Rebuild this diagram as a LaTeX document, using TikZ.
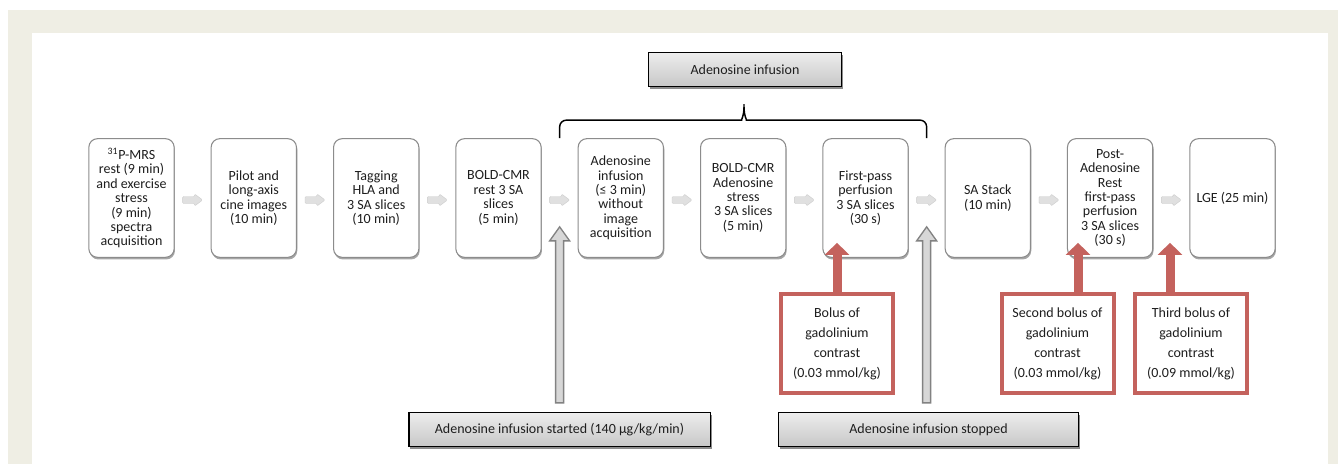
\documentclass[tikz,border=0pt]{standalone}
\usepackage{fontspec}
\setmainfont{Carlito}
\usetikzlibrary{shadows,calc,arrows.meta}
\definecolor{bgbeige}{RGB}{239,238,228}
\definecolor{boxline}{RGB}{140,140,140}
\definecolor{bolusred}{RGB}{196,98,93}
\definecolor{arrgrey}{RGB}{130,130,130}
\definecolor{arrfill}{RGB}{215,215,215}
\definecolor{txt}{RGB}{30,30,30}
\tikzset{
  stage/.style={draw=boxline, line width=0.8pt, rounded corners=6.5pt, fill=white,
    minimum width=64pt, minimum height=89pt, inner sep=1pt, align=center, text=txt,
    font=\fontsize{10.5}{10.8}\selectfont,
    drop shadow={shadow xshift=0.6pt, shadow yshift=-1.6pt, opacity=0.35, fill=black}},
  headbox/.style={draw=black, line width=1pt, top color=white!93!black, bottom color=white!78!black,
    minimum height=25.5pt, inner sep=2pt, font=\fontsize{10.5}{12}\selectfont, text=txt,
    drop shadow={shadow xshift=1.2pt, shadow yshift=-1.5pt, opacity=0.45, fill=black}},
  bolus/.style={draw=bolusred, line width=3pt, fill=white, minimum width=84pt, minimum height=74.5pt,
    inner sep=1pt, align=center, text=txt, font=\fontsize{10.5}{15}\selectfont},
  redarr/.style={draw=bolusred, line width=6.75pt, -{Triangle[width=18pt,length=9pt]}},
  greyarr/.style={draw=arrgrey, line width=1pt, fill=arrfill, line join=miter},
  smarrow/.style={fill=white!88!black, draw=white!80!black, line width=0.3pt, rounded corners=0.8pt},
  bracket/.style={draw=black, line width=1.1pt, rounded corners=5pt},
}
\newcommand\smallarr[1]{\path[smarrow] ($(#1)+(-10,-3.5)$) -- ++(12,0) -- ++(0,-2.5) -- ++(8,6) -- ++(-8,6) -- ++(0,-2.5) -- ++(-12,0) -- cycle;}
\begin{document}
\begin{tikzpicture}[x=0.75pt,y=-0.75pt]
\useasboundingbox (0,0) rectangle (1339,464);
\fill[bgbeige] (8,10) rectangle (1338,464);
\fill[white] (32,33) rectangle (1328,464);

% main stages
\node[stage] (s1) at (131.5,198) {\textsuperscript{31}P-MRS\\rest (9 min)\\and exercise\\stress\\(9 min)\\spectra\\acquisition};
\node[stage] (s2) at (253.8,198) {Pilot and\\long-axis\\cine images\\(10 min)};
\node[stage] (s3) at (376.2,198) {Tagging\\HLA and\\3 SA slices\\(10 min)};
\node[stage] (s4) at (498.5,198) {BOLD-CMR\\rest 3 SA\\slices\\(5 min)};
\node[stage] (s5) at (620.8,198) {Adenosine\\infusion\\(≤ 3 min)\\without\\image\\acquisition};
\node[stage] (s6) at (743.2,198) {BOLD-CMR\\Adenosine\\stress\\3 SA slices\\(5 min)};
\node[stage] (s7) at (865.5,198) {First-pass\\perfusion\\3 SA slices\\(30 s)};
\node[stage] (s8) at (987.8,198) {SA Stack\\(10 min)};
\node[stage] (s9) at (1110.1,198) {Post-\\Adenosine\\Rest\\first-pass\\perfusion\\3 SA slices\\(30 s)};
\node[stage] (s10) at (1232.5,198) {LGE (25 min)};

% gaps
\foreach \a/\b in {1/2,2/3,3/4,4/5,5/6,6/7,7/8,8/9,9/10}{
  \path (s\a.east) -- (s\b.west) coordinate[midway] (g\a\b);
}
\foreach \g in {g12,g23,g34,g45,g56,g67,g78,g89,g910}{
  \smallarr{$(\g)+(0,2)$}
}

% header and brace
\node[headbox, minimum width=145pt] (ah) at (745,69.5) {Adenosine infusion};
\coordinate (btip) at ($(ah.south)+(-1,13)$);
\draw[bracket] (g45|-s5.north) -- ($(g45|-s5.north)+(0,-18)$) -- ($(btip)+(-9,20)$)
  .. controls ($(btip)+(-3,20)$) and ($(btip)+(0,16)$) .. (btip)
  .. controls ($(btip)+(0,16)$) and ($(btip)+(3,20)$) .. ($(btip)+(9,20)$)
  -- ($(g78|-s5.north)+(0,-18)$) -- (g78|-s5.north);

% bottom boxes
\node[headbox, minimum width=226pt] (st) at (559.5,429.5) {Adenosine infusion started (140 µg/kg/min)};
\node[headbox, minimum width=225pt] (sp) at (928.5,429.5) {Adenosine infusion stopped};

% grey arrows
\foreach \g/\b in {g45/st,g78/sp}{
  \draw[greyarr] ($(\g|-\b.north)+(-4,-9)$) -- ($(\g|-s5.south)+(-4,-17)$) -- ($(\g|-s5.south)+(-10,-17)$)
    -- ($(\g|-s5.south)+(0,-31)$) -- ($(\g|-s5.south)+(10,-17)$) -- ($(\g|-s5.south)+(4,-17)$)
    -- ($(\g|-\b.north)+(4,-9)$) -- cycle;
}

% boluses
\node[bolus] (rb1) at (837,343.5) {Bolus of\\gadolinium\\contrast\\(0.03 mmol/kg)};
\node[bolus] (rb2) at (1057.5,343.5) {Second bolus of\\gadolinium\\contrast\\(0.03 mmol/kg)};
\node[bolus] (rb3) at (1191,343.5) {Third bolus of\\gadolinium\\contrast\\(0.09 mmol/kg)};
\draw[redarr] (rb1.north) -- ($(rb1.north|-s7.south)+(0,-15)$);
\draw[redarr] ($(rb2.north)+(20.5,0)$) -- ($(rb2.north|-s9.south)+(20.5,-15)$);
\draw[redarr] ($(rb3.north)+(-21,0)$) -- ($(rb3.north|-s9.south)+(-21,-15)$);
\end{tikzpicture}
\end{document}
